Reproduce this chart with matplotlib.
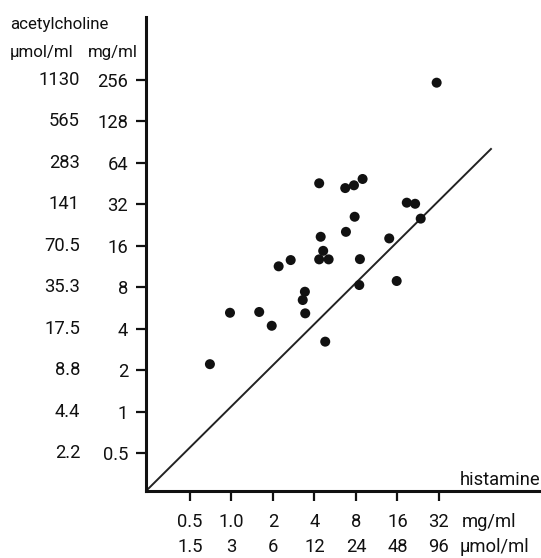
import matplotlib
matplotlib.use("Agg")
import matplotlib.pyplot as plt
import matplotlib.transforms as mtransforms

plt.rcParams['font.family'] = ['Roboto', 'DejaVu Sans']

# data (mg/ml)
histamine_mg = [30.8, 4.33, 6.69, 7.74, 8.94, 18.7, 21.5, 23.6, 7.83, 6.77,
                4.44, 13.95, 4.63, 4.33, 5.07, 2.69, 2.20, 8.55, 15.8, 8.46,
                3.41, 3.29, 0.976, 1.59, 3.43, 1.96, 4.79, 0.698]
acetylcholine_mg = [244.7, 45.5, 42.0, 44.0, 48.9, 32.9, 32.3, 25.2, 26.0, 20.2,
                    18.6, 18.1, 14.7, 12.75, 12.75, 12.6, 11.35, 12.8, 8.88, 8.30,
                    7.42, 6.46, 5.22, 5.29, 5.17, 4.20, 3.22, 2.21]

line_x = [0.24, 77.2]
line_y = [0.265, 81.7]

x_ticks_mg = [0.5, 1, 2, 4, 8, 16, 32]
x_labels_mg = ["0.5", "1.0", "2", "4", "8", "16", "32"]
x_labels_umol = ["1.5", "3", "6", "12", "24", "48", "96"]

y_ticks_mg = [0.5, 1, 2, 4, 8, 16, 32, 64, 128, 256]
y_labels_mg = ["0.5", "1", "2", "4", "8", "16", "32", "64", "128", "256"]
y_labels_umol = ["2.2", "4.4", "8.8", "17.5", "35.3", "70.5", "141", "283", "565", "1130"]

W, H = 541, 558
FS = 13.2
fig = plt.figure(figsize=(W / 100, H / 100), dpi=100)
ax = fig.add_axes([146 / W, (H - 491) / H, (W - 146) / W, (491 - 17) / H])

ax.set_xscale('log', base=2)
ax.set_yscale('log', base=2)
ax.set_xlim(0.24, 176)
ax.set_ylim(0.265, 734)

ax.plot(line_x, line_y, color='#222222', lw=1.4, solid_capstyle='butt')
ax.scatter(histamine_mg, acetylcholine_mg, s=52, color='#111111', zorder=3,
           edgecolors='none')

for s in ['top', 'right']:
    ax.spines[s].set_visible(False)
for s in ['left', 'bottom']:
    ax.spines[s].set_linewidth(2.2)
    ax.spines[s].set_color('#111111')

ax.minorticks_off()
ax.set_xticks(x_ticks_mg)
ax.set_xticklabels([])
ax.set_yticks(y_ticks_mg)
ax.set_yticklabels(y_labels_mg)
ax.tick_params(axis='both', direction='out', length=7, width=1.6,
               colors='#111111', labelsize=FS)
ax.tick_params(axis='y', pad=6)

xtrans = mtransforms.blended_transform_factory(ax.transData, fig.transFigure)
for v, a, b in zip(x_ticks_mg, x_labels_mg, x_labels_umol):
    ax.text(v, 1 - 522 / H, a, transform=xtrans, ha='center', va='center',
            fontsize=FS, color='#111111')
    ax.text(v, 1 - 547 / H, b, transform=xtrans, ha='center', va='center',
            fontsize=FS, color='#111111')

ytrans = mtransforms.blended_transform_factory(fig.transFigure, ax.transData)
for v, lab in zip(y_ticks_mg, y_labels_umol):
    ax.text(80 / W, v, lab, transform=ytrans, ha='right', va='center',
            fontsize=FS, color='#111111')

def fig_txt(x, y, s, fs=FS, **kw):
    fig.text(x / W, 1 - y / H, s, fontsize=fs, color='#111111', **kw)

fig_txt(10, 24, "acetylcholine", fs=12.2, ha='left', va='center')
fig_txt(10, 52, "µmol/ml", fs=12.2, ha='left', va='center')
fig_txt(138, 52, "mg/ml", fs=12.2, ha='right', va='center')
fig_txt(462, 522, "mg/ml", ha='left', va='center')
fig_txt(460, 547, "µmol/ml", ha='left', va='center')
fig_txt(540, 480, "histamine", ha='right', va='center')

fig.savefig("out.png", dpi=100, facecolor='white')
